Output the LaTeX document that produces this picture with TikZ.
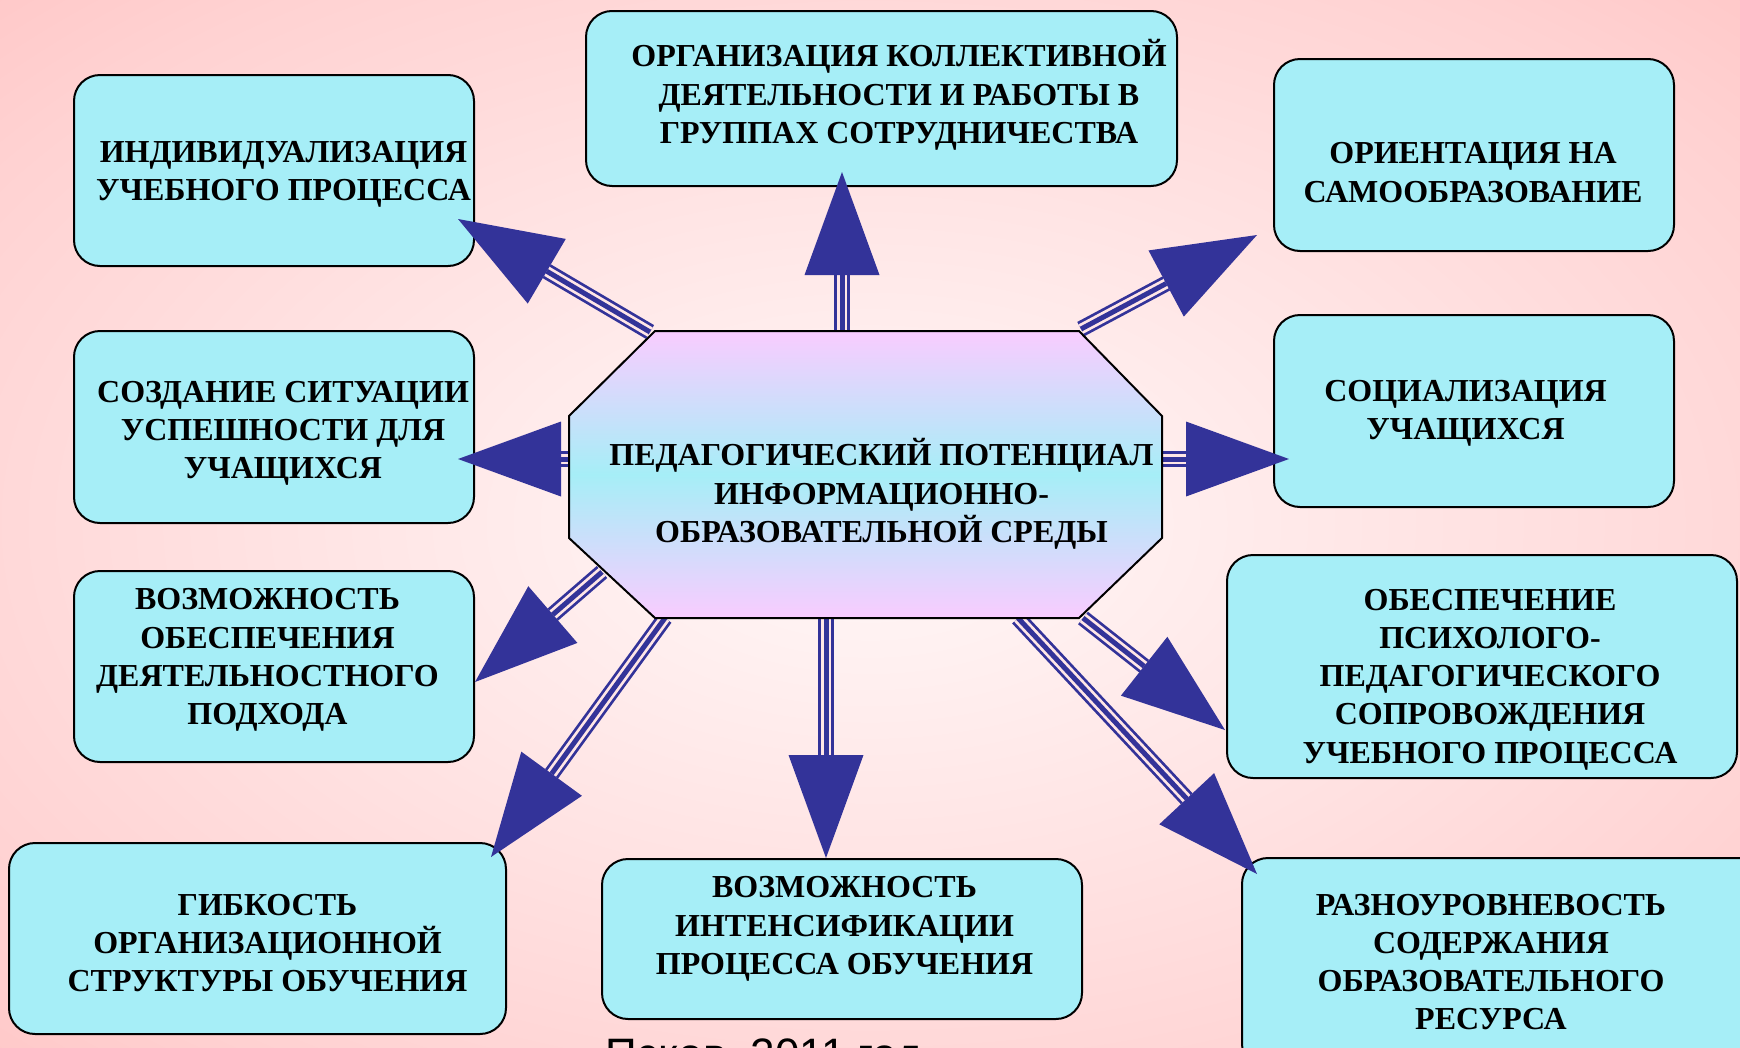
\documentclass[tikz,border=0pt]{standalone}
\usepackage{fontspec}
\setmainfont{Liberation Serif}
\newfontfamily\footfont{Liberation Sans}
\usetikzlibrary{calc}

\definecolor{boxfill}{HTML}{A6EEF7}
\definecolor{arrowblue}{HTML}{333399}
\definecolor{shaftgap}{HTML}{FFE6E6}
\definecolor{bgin}{HTML}{FFF8F8}
\definecolor{bgin2}{HTML}{FFF1F1}
\definecolor{bgmid}{HTML}{FFD2D2}
\definecolor{bgmid2}{HTML}{FFB2B2}
\definecolor{bgout}{HTML}{FFA0A2}
\definecolor{octtop}{HTML}{F9CCFF}
\definecolor{octmid}{HTML}{A6EEF7}

\pgfdeclareradialshading{bgshade}{\pgfpoint{0bp}{0bp}}{color(0bp)=(bgin); color(6bp)=(bgin2); color(30bp)=(bgmid); color(50bp)=(bgmid2); color(71bp)=(bgout)}

\tikzset{
  box/.style={rectangle, draw=black, line width=2pt, fill=boxfill, rounded corners=26pt, inner sep=0pt},
  txt/.style={font=\bfseries\fontsize{32}{38.3}\selectfont, align=center, inner sep=0pt},
  shaftout/.style={line width=16pt, draw=arrowblue},
  shaftgapline/.style={line width=10.5pt, draw=shaftgap},
  shaftin/.style={line width=5pt, draw=arrowblue},
  headfill/.style={fill=arrowblue}
}

\newcommand{\bigarrow}[2]{%
  \coordinate (ab) at ($(#2)!103pt!(#1)$);
  \draw[shaftout] (#1) -- (ab);
  \draw[shaftgapline] (#1) -- (ab);
  \draw[shaftin] (#1) -- (ab);
  \fill[headfill] (#2) -- ($(ab)!37.5pt!90:(#2)$) -- ($(ab)!37.5pt!-90:(#2)$) -- cycle;
}

\begin{document}
\begin{tikzpicture}[x=1pt,y=-1pt]
\useasboundingbox (0,0) rectangle (1740,1047);
\clip (0,0) rectangle (1740,1047);
\shade[shading=bgshade] (0,0) rectangle (1740,1047);

% boxes
\node[box, minimum width=400pt, minimum height=191pt] (b1) at (274,170.5) {};
\node[box, minimum width=591pt, minimum height=175pt] (b2) at (881.5,98.5) {};
\node[box, minimum width=400pt, minimum height=192pt] (b3) at (1474,155) {};
\node[box, minimum width=400pt, minimum height=192pt] (b4) at (274,427) {};
\node[box, minimum width=400pt, minimum height=192pt] (b5) at (1474,411) {};
\node[box, minimum width=400pt, minimum height=191pt] (b6) at (274,666.5) {};
\node[box, minimum width=510pt, minimum height=223pt] (b7) at (1482,666.5) {};
\node[box, minimum width=497pt, minimum height=191pt] (b8) at (257.5,938.5) {};
\node[box, minimum width=480pt, minimum height=160pt] (b9) at (842,939) {};
\node[box, minimum width=533pt, minimum height=212pt] (b10) at (1508.5,964) {};

% arrow end points
\coordinate (s1) at (650,332);  \coordinate (e1) at (458,219);
\coordinate (s2) at (842,331);  \coordinate (e2) at (842,172);
\coordinate (s3) at (1081,329); \coordinate (e3) at (1257,235);
\coordinate (s4) at (570,459);  \coordinate (e4) at (458,459);
\coordinate (s5) at (1162,459); \coordinate (e5) at (1289,459);
\coordinate (s6) at (602,572);  \coordinate (e6) at (475,682);
\coordinate (s7) at (665,618);  \coordinate (e7) at (491,857);
\coordinate (s8) at (826,618);  \coordinate (e8) at (826,858);
\coordinate (s9) at (1083,618); \coordinate (e9) at (1225,730);
\coordinate (s10) at (1018,618); \coordinate (e10) at (1257,874);

\bigarrow{s1}{e1}
\bigarrow{s2}{e2}
\bigarrow{s3}{e3}
\bigarrow{s4}{e4}
\bigarrow{s5}{e5}
\bigarrow{s6}{e6}
\bigarrow{s7}{e7}
\bigarrow{s8}{e8}
\bigarrow{s9}{e9}
\bigarrow{s10}{e10}

% central octagon
\shade[top color=octtop, bottom color=octtop, middle color=octmid, draw=black, line width=2pt]
  (655,331) -- (1079,331) -- (1162,416) -- (1162,538) -- (1079,618) -- (655,618) -- (569,538) -- (569,416) -- cycle;

% texts
\node[txt] (c) at (881.5,494) {ПЕДАГОГИЧЕСКИЙ ПОТЕНЦИАЛ\\ИНФОРМАЦИОННО-\\ОБРАЗОВАТЕЛЬНОЙ СРЕДЫ};
\node[txt] (t1) at (283.5,174) {ИНДИВИДУАЛИЗАЦИЯ\\УЧЕБНОГО ПРОЦЕССА};
\node[txt] (t2) at (899,95) {ОРГАНИЗАЦИЯ КОЛЛЕКТИВНОЙ\\ДЕЯТЕЛЬНОСТИ И РАБОТЫ В\\ГРУППАХ СОТРУДНИЧЕСТВА};
\node[txt] (t3) at (1473,172.5) {ОРИЕНТАЦИЯ НА\\САМООБРАЗОВАНИЕ};
\node[txt] (t4) at (283,433.5) {СОЗДАНИЕ СИТУАЦИИ\\УСПЕШНОСТИ ДЛЯ\\УЧАЩИХСЯ};
\node[txt] (t5) at (1465.5,413.5) {СОЦИАЛИЗАЦИЯ\\УЧАЩИХСЯ};
\node[txt] (t6) at (267.5,660) {ВОЗМОЖНОСТЬ\\ОБЕСПЕЧЕНИЯ\\ДЕЯТЕЛЬНОСТНОГО\\ПОДХОДА};
\node[txt] (t7) at (1490,679.5) {ОБЕСПЕЧЕНИЕ\\ПСИХОЛОГО-\\ПЕДАГОГИЧЕСКОГО\\СОПРОВОЖДЕНИЯ\\УЧЕБНОГО ПРОЦЕССА};
\node[txt] (t8) at (267.5,943) {ГИБКОСТЬ\\ОРГАНИЗАЦИОННОЙ\\СТРУКТУРЫ ОБУЧЕНИЯ};
\node[txt] (t9) at (844.5,929) {ВОЗМОЖНОСТЬ\\ИНТЕНСИФИКАЦИИ\\ПРОЦЕССА ОБУЧЕНИЯ};
\node[txt] (t10) at (1491,962) {РАЗНОУРОВНЕВОСТЬ\\СОДЕРЖАНИЯ\\ОБРАЗОВАТЕЛЬНОГО\\РЕСУРСА};

\node[font=\footfont\fontsize{44}{50}\selectfont, anchor=base west, inner sep=0pt] (foot) at (605,1069) {Псков, 2011 год};
\end{tikzpicture}
\end{document}
